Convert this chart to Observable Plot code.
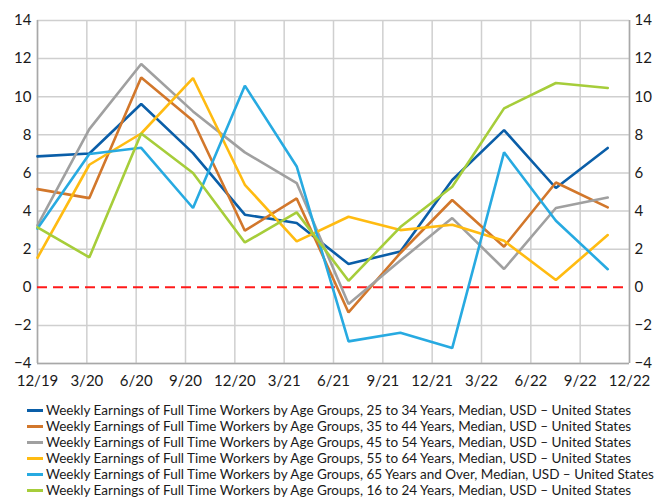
<!DOCTYPE html>
<html>
<head>
<meta charset="utf-8">
<script src="https://cdn.jsdelivr.net/npm/d3@7"></script>
<script src="https://cdn.jsdelivr.net/npm/@observablehq/plot@0.6"></script>
<style>
  html, body { margin: 0; padding: 0; background: #fff; }
  #chart { position: relative; width: 665px; height: 498px; font-family: Lato, "Open Sans", sans-serif; }
  #legend { position: absolute; left: 27px; top: 402px; }
  .row { height: 16px; line-height: 16px; font-size: 13.5px; color: #1a1a1a; white-space: nowrap; display: flex; align-items: center; }
  .sw { width: 16px; height: 3px; margin-right: 3px; flex: none; }
</style>
</head>
<body>
<div id="chart"><div id="legend"></div></div>
<script>
// Period index of each observation (quarterly observations, 0 = 12/19)
const periods = [0, 1, 2, 3, 4, 5, 6, 7, 8, 9, 10, 11];
// x-axis tick labels (evenly spaced across the axis)
const tickLabels = ["12/19","3/20","6/20","9/20","12/20","3/21","6/21","9/21","12/21","3/22","6/22","9/22","12/22"];
const yTicks = [-4, -2, 0, 2, 4, 6, 8, 10, 12, 14];

const seriesNames = [
  "Weekly Earnings of Full Time Workers by Age Groups, 25 to 34 Years, Median, USD \u2013 United States",
  "Weekly Earnings of Full Time Workers by Age Groups, 35 to 44 Years, Median, USD \u2013 United States",
  "Weekly Earnings of Full Time Workers by Age Groups, 45 to 54 Years, Median, USD \u2013 United States",
  "Weekly Earnings of Full Time Workers by Age Groups, 55 to 64 Years, Median, USD \u2013 United States",
  "Weekly Earnings of Full Time Workers by Age Groups, 65 Years and Over, Median, USD \u2013 United States",
  "Weekly Earnings of Full Time Workers by Age Groups, 16 to 24 Years, Median, USD \u2013 United States"
];
const seriesColors = ["#0a5ea8", "#d2772b", "#a0a0a0", "#ffbb11", "#27aae1", "#a6cd3a"];

const age25to34 = [6.87, 7.02, 9.62, 7.04, 3.81, 3.37, 1.22, 1.88, 5.63, 8.25, 5.21, 7.31];
const age35to44 = [5.15, 4.68, 11.01, 8.74, 2.97, 4.66, -1.32, 1.80, 4.58, 2.13, 5.50, 4.19];
const age45to54 = [3.25, 8.30, 11.72, 9.23, 7.08, 5.47, -0.88, 1.40, 3.63, 0.96, 4.16, 4.71];
const age55to64 = [1.55, 6.43, 8.07, 10.98, 5.38, 2.41, 3.70, 3.00, 3.28, 2.44, 0.38, 2.74];
const age65plus = [3.08, 6.99, 7.32, 4.16, 10.58, 6.34, -2.84, -2.39, -3.19, 7.08, 3.49, 0.95];
const age16to24 = [3.15, 1.57, 8.07, 6.00, 2.35, 3.93, 0.34, 3.16, 5.28, 9.39, 10.72, 10.46];

const seriesValues = [age25to34, age35to44, age45to54, age55to64, age65plus, age16to24];

// axis span in period units (tick spacing is slightly narrower than observation spacing)
const xMax = 11.42;
const xTicks = d3.range(tickLabels.length).map(k => k * xMax / (tickLabels.length - 1));

const rows = [];
seriesValues.forEach((vals, s) => {
  vals.forEach((v, i) => rows.push({series: s, x: periods[i], y: v}));
});

const fontFam = "Lato, 'Open Sans', sans-serif";

const plot = Plot.plot({
  width: 665,
  height: 400,
  marginTop: 20,
  marginBottom: 37,
  marginLeft: 37,
  marginRight: 36,
  style: {fontFamily: fontFam, fontSize: "15px", color: "#1a1a1a", background: "#fff"},
  x: {type: "linear", domain: [0, xMax]},
  y: {domain: [-4, 14]},
  marks: [
    Plot.gridX(xTicks, {stroke: "#cfcfcf", strokeOpacity: 1, strokeWidth: 1.5}),
    Plot.gridY(yTicks.filter(v => v !== 0), {stroke: "#cfcfcf", strokeOpacity: 1, strokeWidth: 1.5}),
    Plot.ruleX([0, xMax], {stroke: "#a8a8a8", strokeWidth: 1.5}),
    Plot.ruleY([-4], {stroke: "#a8a8a8", strokeWidth: 1.5}),
    Plot.ruleY([0], {stroke: "#ff1a1a", strokeWidth: 2, strokeOpacity: 1, strokeDasharray: "10,6"}),
    Plot.axisY(yTicks, {anchor: "left", tickSize: 0, tickPadding: 6, label: null, fontSize: 15}),
    Plot.axisY(yTicks, {anchor: "right", tickSize: 0, tickPadding: 5, label: null, fontSize: 15}),
    Plot.axisX(xTicks, {anchor: "bottom", tickSize: 0, tickPadding: 12, label: null, fontSize: 15,
      tickFormat: d => tickLabels[Math.round(d * (tickLabels.length - 1) / xMax)]}),
    ...seriesValues.map((vals, s) =>
      Plot.line(rows.filter(r => r.series === s), {x: "x", y: "y", stroke: seriesColors[s], strokeWidth: 2.6, strokeLinejoin: "miter"})
    )
  ]
});

const chart = document.getElementById("chart");
chart.insertBefore(plot, chart.firstChild);

const legend = document.getElementById("legend");
seriesNames.forEach((name, s) => {
  const row = document.createElement("div");
  row.className = "row";
  const sw = document.createElement("span");
  sw.className = "sw";
  sw.style.background = seriesColors[s];
  const t = document.createElement("span");
  t.textContent = name;
  row.appendChild(sw);
  row.appendChild(t);
  legend.appendChild(row);
});
</script>
</body>
</html>
